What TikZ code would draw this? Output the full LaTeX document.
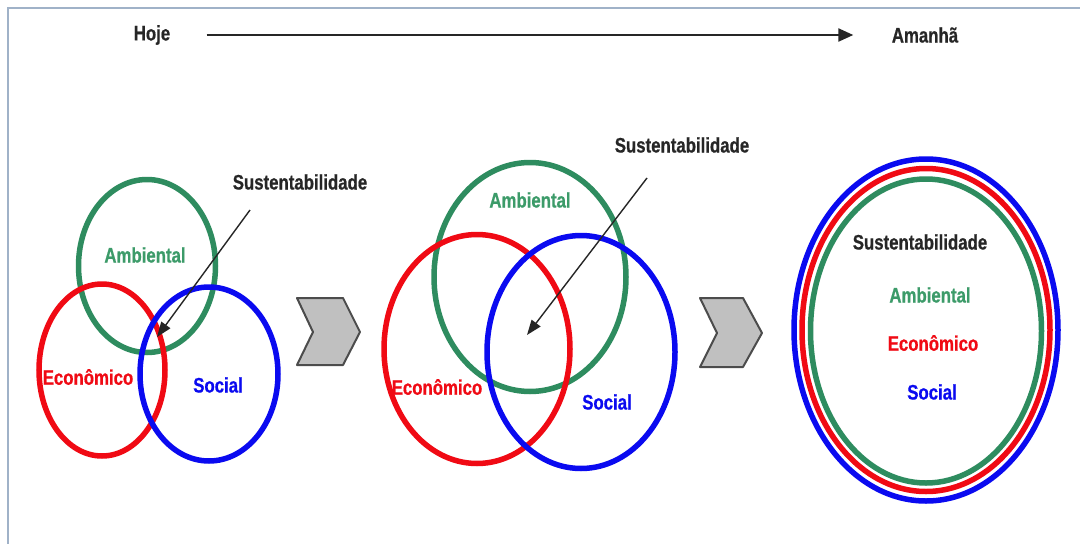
\documentclass[tikz,border=0pt]{standalone}
\usepackage{fontspec}
\setmainfont{Liberation Sans}[FakeStretch=0.8,BoldFeatures={FakeBold=0.6}]
\usetikzlibrary{shapes.geometric,arrows.meta}
\definecolor{verde}{RGB}{46,140,95}
\definecolor{verdetx}{RGB}{60,155,105}
\definecolor{vermelho}{RGB}{240,10,20}
\definecolor{azul}{RGB}{10,10,240}
\definecolor{moldura}{RGB}{160,178,200}
\definecolor{cinza}{RGB}{192,192,192}
\begin{document}
\begin{tikzpicture}[x=1pt,y=-1pt,
  anel/.style={ellipse,draw,line width=5.5pt,inner sep=0pt},
  rotulo/.style={font=\bfseries\fontsize{21}{24}\selectfont},
  seta/.style={-{Triangle[length=15pt,width=11pt]},line width=1.4pt,color=black!85}]
\useasboundingbox (0,0) rectangle (1080,544);
\fill[white] (0,0) rectangle (1080,544);
\draw[color=moldura,line width=1.5pt] (8,544) -- (8,8) -- (1080,8);
% linha do tempo
\node[rotulo,color=black!85] (hoje) at (152,35) {Hoje};
\node[rotulo,color=black!85] (amanha) at (925,35) {Amanhã};
\draw[-{Triangle[length=15pt,width=13pt]},line width=2.2pt,color=black!85,shorten <=33pt,shorten >=35pt] (hoje.east) -- (amanha.west);
% hoje
\node[anel,color=verde,minimum width=137pt,minimum height=173pt] (amb1) at (147,266) {};
\node[anel,color=vermelho,minimum width=126pt,minimum height=172pt] (eco1) at (102,370) {};
\node[anel,color=azul,minimum width=138pt,minimum height=174pt] (soc1) at (209,374) {};
\node[rotulo,color=verdetx] at (145,255) {Ambiental};
\node[rotulo,color=vermelho] at (88,377) {Econômico};
\node[rotulo,color=azul] at (218,385) {Social};
\node[rotulo,color=black!85] (sus1) at (300,182) {Sustentabilidade};
\coordinate (ini1) at (250,210);
\coordinate (fim1) at (157,337);
\draw[seta] (ini1) -- (fim1);
\draw[color=black!70,fill=cinza,line width=2pt,line join=round]
  (297,298) -- (343,298) -- (360,332) -- (343,365) -- (297,365) -- (313,332) -- cycle;
% transicao
\node[anel,color=verde,minimum width=192pt,minimum height=229pt] (amb2) at (530,277) {};
\node[anel,color=vermelho,minimum width=186pt,minimum height=229pt] (eco2) at (477,349) {};
\node[anel,color=azul,minimum width=188pt,minimum height=233pt] (soc2) at (581,352) {};
\node[rotulo,color=verdetx] at (530,200) {Ambiental};
\node[rotulo,color=vermelho] at (437,387) {Econômico};
\node[rotulo,color=azul] at (607,402) {Social};
\node[rotulo,color=black!85] (sus2) at (682,145) {Sustentabilidade};
\coordinate (ini2) at (647,178);
\coordinate (fim2) at (527,335);
\draw[seta] (ini2) -- (fim2);
\draw[color=black!70,fill=cinza,line width=2pt,line join=round]
  (700,298) -- (743,298) -- (762,333) -- (743,367) -- (700,367) -- (717,333) -- cycle;
% amanha
\node[anel,color=azul,minimum width=264pt,minimum height=342pt] (soc3) at (926,330) {};
\node[anel,color=vermelho,minimum width=248pt,minimum height=323pt] (eco3) at (926,330) {};
\node[anel,color=verde,minimum width=231pt,minimum height=304pt] (amb3) at (926,331) {};
\node[rotulo,color=black!85] (sus3) at (920,242) {Sustentabilidade};
\node[rotulo,color=verdetx] at (930,295) {Ambiental};
\node[rotulo,color=vermelho] at (933,343) {Econômico};
\node[rotulo,color=azul] at (932,392) {Social};
\end{tikzpicture}
\end{document}
